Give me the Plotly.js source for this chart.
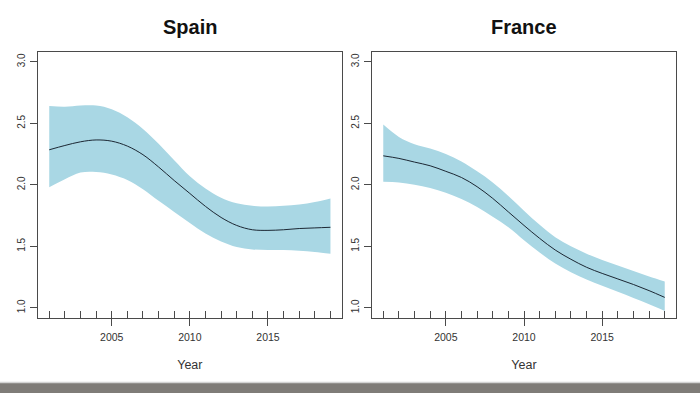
<!DOCTYPE html>
<html>
<head>
<meta charset="utf-8">
<script src="https://cdn.plot.ly/plotly-3.0.1.min.js"></script>
<style>html,body{margin:0;padding:0;background:#fff;}#chart{width:700px;height:393px;}</style>
</head>
<body>
<div id="chart"></div>
<script>
const years = [2001,2002,2003,2004,2005,2006,2007,2008,2009,2010,2011,2012,2013,2014,2015,2016,2017,2018,2019];

const spainMean  = [2.285,2.32,2.35,2.365,2.355,2.315,2.245,2.145,2.035,1.93,1.825,1.735,1.67,1.635,1.63,1.635,1.645,1.65,1.655];
const spainUpper = [2.64,2.635,2.645,2.645,2.615,2.55,2.455,2.335,2.20,2.07,1.97,1.895,1.85,1.83,1.825,1.83,1.84,1.86,1.89];
const spainLower = [1.98,2.045,2.10,2.105,2.085,2.04,1.965,1.87,1.78,1.69,1.605,1.54,1.495,1.475,1.47,1.47,1.465,1.455,1.44];

const franceMean  = [2.236,2.215,2.185,2.155,2.11,2.06,1.985,1.89,1.78,1.67,1.565,1.47,1.395,1.33,1.28,1.235,1.19,1.14,1.085];
const franceUpper = [2.49,2.39,2.33,2.295,2.25,2.19,2.11,2.02,1.91,1.79,1.675,1.575,1.50,1.44,1.39,1.345,1.30,1.255,1.215];
const franceLower = [2.025,2.02,2.00,1.975,1.935,1.885,1.82,1.74,1.655,1.55,1.45,1.36,1.29,1.23,1.18,1.13,1.08,1.03,0.975];

const panelTitles = ['Spain', 'France'];
const xTickVals = [2005, 2010, 2015];
const yTickVals = [1.0, 1.5, 2.0, 2.5, 3.0];
const yTickText = ['1.0', '1.5', '2.0', '2.5', '3.0'];
const xAxisTitle = 'Year';

const bandColor = '#a9d7e4';
const lineColor = '#1c2733';
const axisColor = '#4a4a4a';
const font = 'Liberation Sans, Arial, Helvetica, sans-serif';

function panel(mean, upper, lower, xa, ya, rugx) {
  return [
    {x: years, y: upper, xaxis: xa, yaxis: ya, type: 'scatter', mode: 'lines',
     line: {width: 0, shape: 'spline', smoothing: 1}, hoverinfo: 'skip', showlegend: false},
    {x: years, y: lower, xaxis: xa, yaxis: ya, type: 'scatter', mode: 'lines',
     fill: 'tonexty', fillcolor: bandColor,
     line: {width: 0, shape: 'spline', smoothing: 1}, hoverinfo: 'skip', showlegend: false},
    {x: years, y: mean, xaxis: rugx, yaxis: ya, type: 'scatter', mode: 'lines',
     line: {color: lineColor, width: 1, shape: 'spline', smoothing: 1}, showlegend: false}
  ];
}

const data = [].concat(
  panel(spainMean, spainUpper, spainLower, 'x', 'y', 'x3'),
  panel(franceMean, franceUpper, franceLower, 'x2', 'y2', 'x4')
);

const xr = [2000.28, 2019.72];
const yr = [0.92, 3.08];
const yDom = [1 - 317.7/393, 1 - 52/393];
const dom1 = [38/700, 341.7/700];
const dom2 = [372/700, 676/700];

function xaxis(dom, anchor) {
  return {domain: dom, anchor: anchor, range: xr, autorange: false,
    tickvals: xTickVals, ticks: 'outside', ticklen: 7, tickwidth: 1, tickcolor: axisColor,
    ticklabelstandoff: 3,
    showline: true, mirror: true, linecolor: axisColor, linewidth: 1,
    showgrid: false, zeroline: false,
    tickfont: {family: font, size: 10.5, color: '#333'},
    title: {text: xAxisTitle, font: {family: font, size: 12.5, color: '#333'}, standoff: 17}};
}
function rugaxis(over, anchor) {
  return {overlaying: over, anchor: anchor, side: 'bottom', range: xr, autorange: false,
    tickvals: years, ticks: 'inside', ticklen: 7, tickwidth: 1, tickcolor: axisColor,
    showticklabels: false, showline: false, showgrid: false, zeroline: false};
}
function yaxis(anchor) {
  return {domain: yDom, anchor: anchor, range: yr, autorange: false,
    tickvals: yTickVals, ticktext: yTickText, tickangle: -90,
    ticks: 'outside', ticklen: 7, tickwidth: 1, tickcolor: axisColor,
    ticklabelstandoff: 1,
    showline: true, mirror: true, linecolor: axisColor, linewidth: 1,
    showgrid: false, zeroline: false,
    tickfont: {family: font, size: 10, color: '#333'}};
}

const layout = {
  width: 700, height: 393,
  margin: {l: 0, r: 0, t: 0, b: 0},
  paper_bgcolor: '#ffffff', plot_bgcolor: '#ffffff',
  showlegend: false,
  xaxis: xaxis(dom1, 'y'),
  yaxis: yaxis('x'),
  xaxis2: xaxis(dom2, 'y2'),
  yaxis2: yaxis('x2'),
  xaxis3: rugaxis('x', 'y'),
  xaxis4: rugaxis('x2', 'y2'),
  annotations: [
    {text: '<b>' + panelTitles[0] + '</b>', xref: 'paper', yref: 'paper',
     x: (dom1[0] + dom1[1]) / 2, y: 1 - 27/393, xanchor: 'center', yanchor: 'middle',
     showarrow: false, font: {family: font, size: 20, color: '#111'}},
    {text: '<b>' + panelTitles[1] + '</b>', xref: 'paper', yref: 'paper',
     x: (dom2[0] + dom2[1]) / 2, y: 1 - 27/393, xanchor: 'center', yanchor: 'middle',
     showarrow: false, font: {family: font, size: 20, color: '#111'}}
  ],
  shapes: [
    {type: 'rect', xref: 'paper', yref: 'paper', x0: 0, x1: 1, y0: 0, y1: 10/393,
     fillcolor: '#7f7c78', line: {width: 0}, layer: 'above'},
    {type: 'line', xref: 'paper', yref: 'paper', x0: 0, x1: 1, y0: 10.5/393, y1: 10.5/393,
     line: {color: '#d4d4d4', width: 1.5}, layer: 'above'}
  ]
};

Plotly.newPlot('chart', data, layout, {displayModeBar: false, staticPlot: true});
</script>
</body>
</html>
